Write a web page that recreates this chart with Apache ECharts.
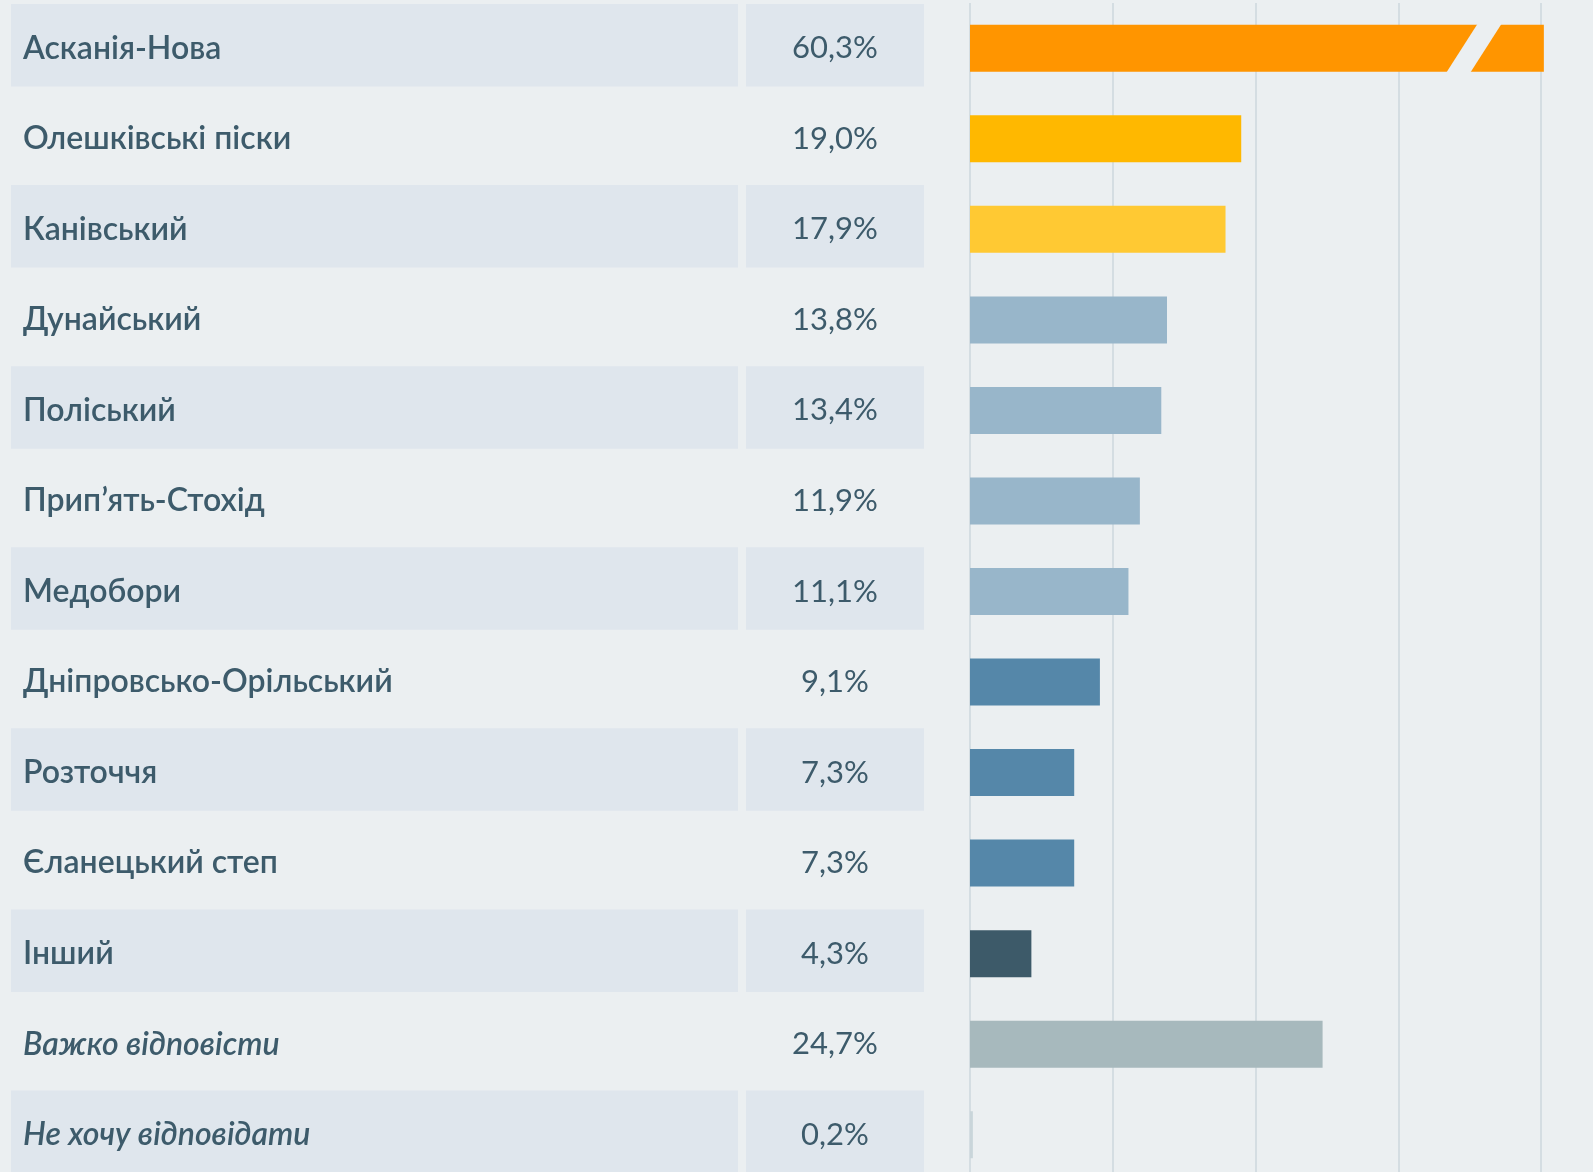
<!DOCTYPE html>
<html>
<head>
<meta charset="utf-8">
<title>Нацпарки</title>
<script src="https://cdn.jsdelivr.net/npm/echarts@6/dist/echarts.min.js"></script>
<style>
  html, body { margin: 0; padding: 0; background: #EBEFF1; }
  #chart { width: 1593px; height: 1172px; }
</style>
</head>
<body>
<div id="chart"></div>
<script>
// дані
var categories = ['Асканія-Нова', 'Олешківські піски', 'Канівський', 'Дунайський', 'Поліський',
  'Прип’ять-Стохід', 'Медобори', 'Дніпровсько-Орільський', 'Розточчя', 'Єланецький степ',
  'Інший', 'Важко відповісти', 'Не хочу відповідати'];
var values = [60.3, 19.0, 17.9, 13.8, 13.4, 11.9, 11.1, 9.1, 7.3, 7.3, 4.3, 24.7, 0.2];
var xTicks = [0, 10, 20, 30, 40];

// кольори стовпчиків
var barColors = ['#FF9500', '#FFB800', '#FFC933', '#98B6CA', '#98B6CA', '#98B6CA', '#98B6CA',
  '#5587A9', '#5587A9', '#5587A9', '#3D5A69', '#A7B9BD', '#C9D5DA'];
var italicRows = [11, 12];

var textColor = '#3D5B6B';
var bandColor = '#DFE6ED';
var bgColor = '#EBEFF1';
var barCap = 40.2;      // довгий стовпчик обрізаємо з розривом
var breakAt = 35.3;

function fmt(v) {
  return v.toFixed(1).replace('.', ',') + '%';
}

(function() {
  var myChart = echarts.init(document.getElementById('chart'));

  var option = {
    backgroundColor: bgColor,
    animation: false,
    grid: {
      left: 970,
      right: 52,
      top: 3,
      height: 1177,   // остання смуга виходить за край картинки
      outerBoundsMode: 'none'
    },
    xAxis: {
      type: 'value',
      min: xTicks[0],
      max: xTicks[xTicks.length - 1],
      interval: xTicks[1] - xTicks[0],
      axisLabel: { show: false },
      axisLine: { show: false },
      axisTick: { show: false },
      splitLine: {
        lineStyle: { color: '#D4DDE2', width: 2 }
      }
    },
    yAxis: {
      type: 'category',
      data: categories,
      inverse: true,
      axisLabel: { show: false },
      axisLine: { show: false },
      axisTick: { show: false }
    },
    series: [
      // таблиця зліва: смуги, назви та відсотки
      {
        type: 'custom',
        clip: false,
        silent: true,
        z: 1,
        data: categories.map(function (c, i) { return [0, i]; }),
        renderItem: function (params, api) {
          var i = api.value(1);
          var pt = api.coord([0, i]);
          var bw = api.size([0, 1])[1];
          var cy = pt[1];
          var italic = italicRows.indexOf(i) >= 0;
          var children = [];
          if (i % 2 === 0) {
            children.push({
              type: 'rect',
              shape: { x: 11, y: cy - bw / 2 + 1, width: 727, height: bw - 8 },
              style: { fill: bandColor }
            });
            children.push({
              type: 'rect',
              shape: { x: 746, y: cy - bw / 2 + 1, width: 178, height: bw - 8 },
              style: { fill: bandColor }
            });
          }
          children.push({
            type: 'text',
            x: 23, y: cy,
            style: {
              text: categories[i],
              fill: textColor,
              font: (italic ? 'italic ' : '') + '600 32px Lato',
              align: 'left',
              verticalAlign: 'middle'
            }
          });
          children.push({
            type: 'text',
            x: 835, y: cy,
            style: {
              text: fmt(values[i]),
              fill: textColor,
              font: 'normal 31px Lato',
              align: 'center',
              verticalAlign: 'middle'
            }
          });
          return { type: 'group', children: children };
        }
      },
      {
        type: 'bar',
        barWidth: 47,
        clip: false,
        silent: true,
        z: 2,
        data: values.map(function (v, i) {
          return { value: Math.min(v, barCap), itemStyle: { color: barColors[i] } };
        })
      },
      // розрив на першому стовпчику
      {
        type: 'custom',
        clip: false,
        silent: true,
        z: 3,
        data: [[breakAt, 0]],
        renderItem: function (params, api) {
          var pt = api.coord([api.value(0), api.value(1)]);
          var h = 25;
          var shift = 16;
          var half = 12;
          return {
            type: 'polygon',
            shape: {
              points: [
                [pt[0] + shift - half, pt[1] - h],
                [pt[0] + shift + half, pt[1] - h],
                [pt[0] - shift + half, pt[1] + h],
                [pt[0] - shift - half, pt[1] + h]
              ]
            },
            style: { fill: bgColor }
          };
        }
      }
    ]
  };

  myChart.setOption(option);
  window.addEventListener('resize', function () {
    myChart.resize();
  });
})();
</script>
</body>
</html>
